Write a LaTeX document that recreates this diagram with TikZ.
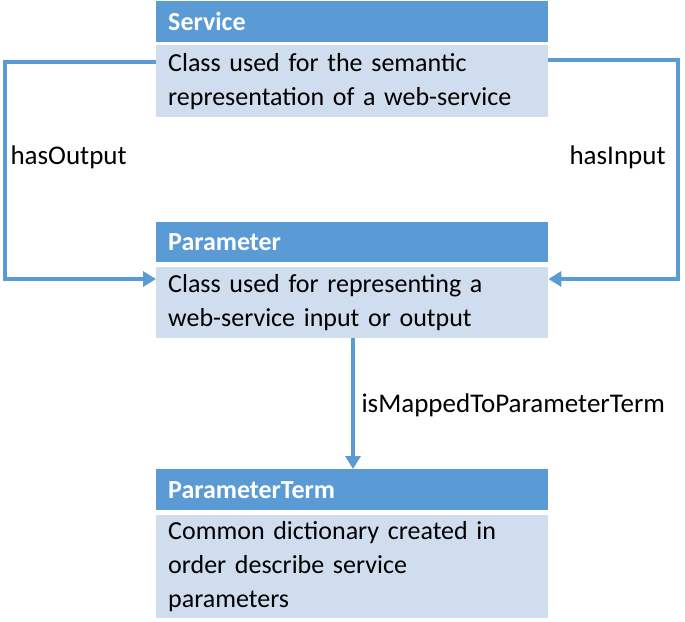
\documentclass[tikz,border=0pt]{standalone}
\usepackage{fontspec}
\setmainfont{Carlito}
\usetikzlibrary{arrows.meta,calc}
\definecolor{hdr}{HTML}{5B9BD5}
\definecolor{bdy}{HTML}{D0DDEE}
\begin{document}
\begin{tikzpicture}[x=1pt,y=-1pt,
  hdrbox/.style={fill=hdr,anchor=north west,minimum width=392pt,text width=368pt,inner xsep=12pt,inner ysep=0pt,align=left,text=white,font=\fontsize{26}{30}\selectfont\bfseries},
  bdybox/.style={fill=bdy,anchor=north west,minimum width=392pt,text width=368pt,inner xsep=12pt,inner ysep=0pt,align=left,font=\fontsize{26}{34}\selectfont},
  conn/.style={draw=hdr,line width=4pt},
  arr/.style={conn,-{Triangle[length=13pt,width=15pt]}},
  lbl/.style={font=\fontsize{27}{31}\selectfont,anchor=west}]
\useasboundingbox (0,0) rectangle (685,621);
\node[hdrbox,minimum height=41pt] (sh) at (156,1) {Service};
\node[bdybox,minimum height=72pt] (sb) at (156,45) {Class used for the semantic\\representation of a web-service};
\node[hdrbox,minimum height=40pt] (ph) at (156,222) {Parameter};
\node[bdybox,minimum height=71pt] (pb) at (156,267) {Class used for representing a\\web-service input or output};
\node[hdrbox,minimum height=41pt] (th) at (156,469) {ParameterTerm};
\node[bdybox,minimum height=103pt] (tb) at (156,515) {Common dictionary created in\\order describe service\\parameters};
\coordinate (lo) at ($(sb.north west)+(0,17)$);
\coordinate (li) at ($(pb.north west)+(0,12)$);
\coordinate (ro) at ($(sb.north east)+(0,15)$);
\coordinate (ri) at ($(pb.north east)+(0,12)$);
\draw[arr] (lo) -- (5,62) -- (5,279) -- (li);
\draw[arr] (ro) -- (678,60) -- (678,279) -- (ri);
\draw[arr] (pb.south -| 353,0) -- (th.north -| 353,0);
\node[lbl] (l1) at (7,157) {hasOutput};
\node[lbl] (l2) at (566,157) {hasInput};
\node[lbl] (l3) at (358,405) {isMappedToParameterTerm};
\end{tikzpicture}
\end{document}
